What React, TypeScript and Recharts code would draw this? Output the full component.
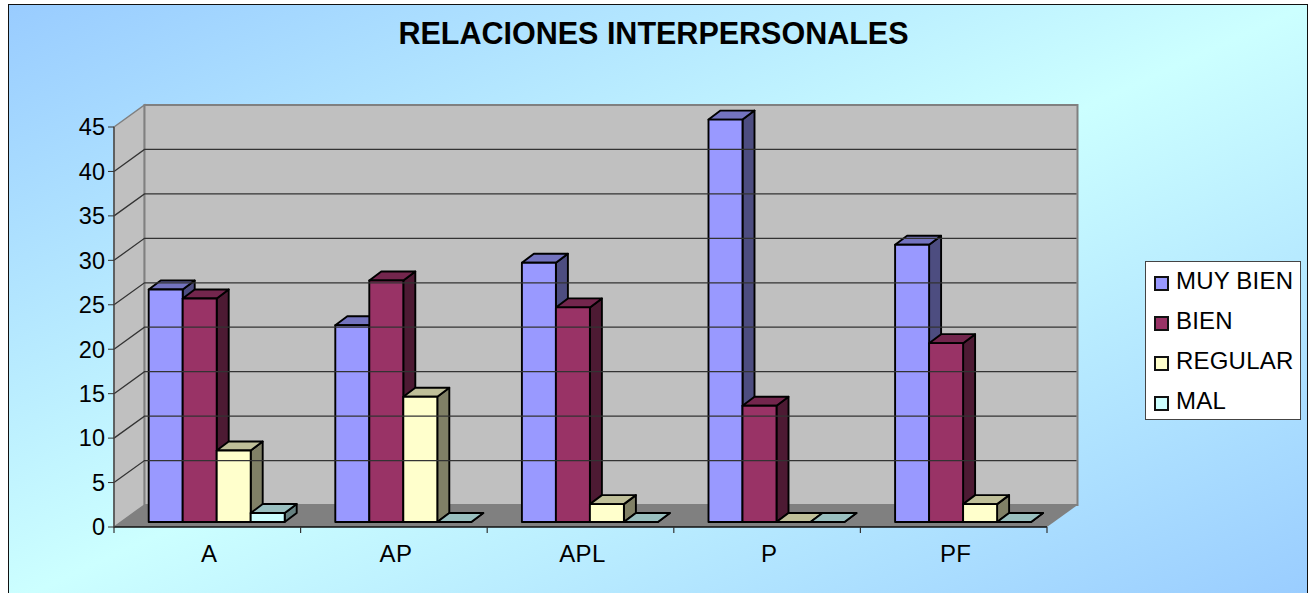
import { BarChart, Bar, XAxis, YAxis, Legend, ReferenceArea, ReferenceLine } from 'recharts'

const categories = ['A', 'AP', 'APL', 'P', 'PF']
const muyBien = [26, 22, 29, 45, 31]
const bien = [25, 27, 24, 13, 20]
const regular = [8, 14, 2, 0, 2]
const mal = [1, 0, 0, 0, 0]
const yTicks = [0, 5, 10, 15, 20, 25, 30, 35, 40, 45]

const data = categories.map((name, i) => ({
  name,
  muyBien: muyBien[i],
  bien: bien[i],
  regular: regular[i],
  mal: mal[i],
}))

// depth of the back wall and of the bars, in px
const WALL_DX = 30.5
const WALL_DY = -22
const BAR_DX = 12
const BAR_DY = -9
const FONT = '"Liberation Sans", Arial, sans-serif'
const BAND = 933 / 5

function Wall({ x, y, width, height }: any) {
  const bottom = y + height
  const right = x + width
  return (
    <g>
      <polygon
        points={`${x},${y} ${x + WALL_DX},${y + WALL_DY} ${x + WALL_DX},${bottom + WALL_DY} ${x},${bottom}`}
        fill="#c0c0c0"
        stroke="#808080"
        strokeWidth={1.5}
      />
      <rect
        x={x + WALL_DX}
        y={y + WALL_DY}
        width={width}
        height={height}
        fill="#c0c0c0"
        stroke="#808080"
        strokeWidth={2}
      />
      <polygon
        points={`${x},${bottom} ${x + WALL_DX},${bottom + WALL_DY} ${right + WALL_DX},${bottom + WALL_DY} ${right},${bottom}`}
        fill="#808080"
      />
    </g>
  )
}

function GridLine({ x1, y1, x2 }: any) {
  return (
    <polyline
      points={`${x1},${y1} ${x1 + WALL_DX},${y1 + WALL_DY} ${x2 + WALL_DX - 1},${y1 + WALL_DY}`}
      fill="none"
      stroke="#333"
      strokeWidth={1.3}
    />
  )
}

function Bar3D({ x, y, width, height, fill, topFill, sideFill }: any) {
  const left = x + 9.7
  const right = left + width
  const bottom = y + height - 5
  const top = bottom - height * 1.006
  const stroke = { stroke: '#000', strokeWidth: 1.9, strokeLinejoin: 'round' as const }
  return (
    <g>
      <polygon
        points={`${right},${top} ${right + BAR_DX},${top + BAR_DY} ${right + BAR_DX},${bottom + BAR_DY} ${right},${bottom}`}
        fill={sideFill}
        {...stroke}
      />
      <polygon
        points={`${left},${top} ${left + BAR_DX},${top + BAR_DY} ${right + BAR_DX},${top + BAR_DY} ${right},${top}`}
        fill={topFill}
        {...stroke}
      />
      <rect x={left} y={top} width={width} height={bottom - top} fill={fill} {...stroke} />
    </g>
  )
}

function CategoryTick({ x, y, payload, index }: any) {
  const tickLeft = x - BAND / 2
  return (
    <g>
      <line x1={tickLeft} y1={527} x2={tickLeft} y2={533} stroke="#333" strokeWidth={1.2} />
      {index === categories.length - 1 && (
        <line x1={tickLeft + BAND} y1={527} x2={tickLeft + BAND} y2={533} stroke="#333" strokeWidth={1.2} />
      )}
      <text x={x + 2} y={y + 27} textAnchor="middle" fontSize={24} letterSpacing={0.4} fontFamily={FONT} fill="#000">
        {payload.value}
      </text>
    </g>
  )
}

function LegendBox({ payload }: any) {
  return (
    <div
      style={{
        boxSizing: 'border-box',
        width: 156,
        height: 159,
        background: '#fff',
        border: '1px solid #444',
        padding: '0 0 0 8px',
        fontFamily: FONT,
        fontSize: 24,
        letterSpacing: 0.2,
        color: '#000',
      }}
    >
      {(payload || []).map((item: any) => (
        <div key={item.value} style={{ display: 'flex', alignItems: 'center', height: 40 }}>
          <span
            style={{
              boxSizing: 'border-box',
              width: 15,
              height: 15,
              marginRight: 7,
              marginTop: 3,
              background: item.color,
              border: '2px solid #111',
            }}
          />
          <span style={{ position: 'relative', top: -1 }}>{item.value}</span>
        </div>
      ))}
    </div>
  )
}

export default function App() {
  return (
    <div style={{ position: 'absolute', left: 0, top: 0, width: 1312, height: 593, overflow: 'hidden', background: '#fff' }}>
      <div
        style={{
          position: 'absolute',
          left: 8,
          top: 4,
          width: 1300,
          height: 600,
          boxSizing: 'border-box',
          border: '1.5px solid #111',
          background: 'linear-gradient(to bottom right, #99ccff 0%, #ccffff 50%, #99ccff 100%)',
        }}
      />
      <BarChart
        width={1312}
        height={593}
        data={data}
        barGap={0}
        barSize={34}
        margin={{ top: 127, right: 109, bottom: 26, left: 54 }}
        style={{ position: 'absolute', left: 0, top: 0 }}
      >
        <text x={653.5} y={44} textAnchor="middle" fontSize={30.5} fontWeight="bold" fontFamily={FONT} fill="#000">
          RELACIONES INTERPERSONALES
        </text>
        <ReferenceArea y1={0} y2={45} shape={<Wall />} ifOverflow="visible" />
        {yTicks.slice(1, -1).map((t) => (
          <ReferenceLine key={t} y={t} shape={<GridLine />} />
        ))}
        <XAxis
          dataKey="name"
          height={40}
          interval={0}
          tickLine={false}
          axisLine={{ stroke: '#111', strokeWidth: 1.5 }}
          tick={<CategoryTick />}
        />
        <YAxis
          width={60}
          domain={[0, 45]}
          ticks={yTicks}
          interval={0}
          tickSize={6}
          tickMargin={3}
          axisLine={{ stroke: '#444', strokeWidth: 1.3 }}
          tickLine={{ stroke: '#333' }}
          tick={{ fontSize: 23.5, fontFamily: FONT, fill: '#000' }}
        />
        <Legend
          layout="vertical"
          align="right"
          verticalAlign="middle"
          width={156}
          height={159}
          itemSorter={null}
          content={<LegendBox />}
          wrapperStyle={{ left: 1145, top: 261, right: 'auto', bottom: 'auto' }}
        />
        <Bar
          dataKey="muyBien"
          name="MUY BIEN"
          fill="#9999ff"
          isAnimationActive={false}
          shape={<Bar3D topFill="#7373bf" sideFill="#4d4d80" />}
        />
        <Bar
          dataKey="bien"
          name="BIEN"
          fill="#993366"
          isAnimationActive={false}
          shape={<Bar3D topFill="#73264d" sideFill="#4d1a33" />}
        />
        <Bar
          dataKey="regular"
          name="REGULAR"
          fill="#ffffcc"
          isAnimationActive={false}
          shape={<Bar3D topFill="#bfbf99" sideFill="#808066" />}
        />
        <Bar
          dataKey="mal"
          name="MAL"
          fill="#ccffff"
          isAnimationActive={false}
          shape={<Bar3D topFill="#99bfbf" sideFill="#668080" />}
        />
      </BarChart>
    </div>
  )
}
